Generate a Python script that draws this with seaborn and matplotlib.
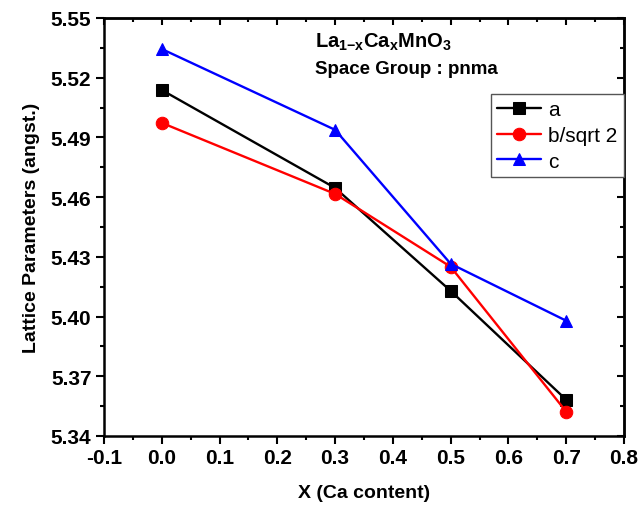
import matplotlib
matplotlib.use("Agg")
import matplotlib.pyplot as plt
import seaborn as sns
import pandas as pd
from matplotlib.ticker import MultipleLocator, FormatStrFormatter

sns.set_theme(style="white")
plt.rcParams['font.family'] = ['Liberation Sans', 'DejaVu Sans']
plt.rcParams['mathtext.fontset'] = 'custom'
plt.rcParams['mathtext.bf'] = 'Liberation Sans:bold'
plt.rcParams['mathtext.rm'] = 'Liberation Sans'
for k in ['text.color', 'axes.labelcolor', 'xtick.color', 'ytick.color']:
    plt.rcParams[k] = 'black'

x_ca = [0.0, 0.3, 0.5, 0.7]
a_vals = [5.5138, 5.4646, 5.4129, 5.3582]
b_vals = [5.4973, 5.4616, 5.4250, 5.3522]
c_vals = [5.5344, 5.4938, 5.4265, 5.3979]
series_names = ["a", "b/sqrt 2", "c"]
series_colors = ["black", "red", "blue"]
series_markers = ["s", "o", "^"]

df = pd.DataFrame({
    "x": x_ca * 3,
    "y": a_vals + b_vals + c_vals,
    "series": [series_names[0]] * 4 + [series_names[1]] * 4 + [series_names[2]] * 4,
})

fig = plt.figure(figsize=(6.39, 5.06), dpi=100)
ax = fig.add_axes([0.1628, 0.1364, 0.8137, 0.8261])

for name, col, mk in zip(series_names, series_colors, series_markers):
    sub = df[df["series"] == name]
    sns.lineplot(data=sub, x="x", y="y", ax=ax, color=col, marker=mk,
                 markersize=9 if mk != "s" else 8, markeredgecolor=col,
                 linewidth=1.7, label=name, sort=False)

ax.set_xlim(-0.1, 0.8)
ax.set_ylim(5.34, 5.55)
ax.xaxis.set_major_locator(MultipleLocator(0.1))
ax.xaxis.set_minor_locator(MultipleLocator(0.05))
ax.yaxis.set_major_locator(MultipleLocator(0.03))
ax.yaxis.set_minor_locator(MultipleLocator(0.015))
ax.xaxis.set_major_formatter(FormatStrFormatter('%.1f'))
ax.yaxis.set_major_formatter(FormatStrFormatter('%.2f'))

for s in ax.spines.values():
    s.set_color("black")
    s.set_linewidth(1.8)

ax.tick_params(axis='both', which='both', bottom=True, left=True, top=False, right=False,
               direction='out', color='black', width=1.5)
ax.tick_params(axis='both', which='major', length=6, labelsize=15, pad=3)
ax.tick_params(axis='both', which='minor', length=3)
for lab in ax.get_xticklabels() + ax.get_yticklabels():
    lab.set_fontweight('bold')

# inward ticks on top and right
axt = ax.secondary_xaxis('top')
axt.xaxis.set_major_locator(MultipleLocator(0.1))
axt.xaxis.set_minor_locator(MultipleLocator(0.05))
axt.tick_params(which='both', direction='in', labeltop=False, width=1.5, color='black')
axt.tick_params(which='major', length=5)
axt.tick_params(which='minor', length=3)
axt.spines['top'].set_linewidth(1.8)
axr = ax.secondary_yaxis('right')
axr.yaxis.set_major_locator(MultipleLocator(0.03))
axr.yaxis.set_minor_locator(MultipleLocator(0.015))
axr.tick_params(which='both', direction='in', labelright=False, width=1.5, color='black')
axr.tick_params(which='major', length=5)
axr.tick_params(which='minor', length=3)
axr.spines['right'].set_linewidth(1.8)

ax.set_xlabel("X (Ca content)", fontsize=14, fontweight='bold', labelpad=12)
ax.set_ylabel("Lattice Parameters (angst.)", fontsize=14, fontweight='bold', labelpad=8)

ax.text(0.405, 0.945, r'$\mathbf{La_{1{-}x}Ca_{x}MnO_{3}}$', transform=ax.transAxes,
        fontsize=14.5, ha='left', va='center')
ax.text(0.405, 0.880, "Space Group : pnma", transform=ax.transAxes,
        fontsize=13.5, fontweight='bold', ha='left', va='center')

leg = ax.legend(loc='upper right', bbox_to_anchor=(1.0, 0.818), fontsize=15,
                frameon=True, fancybox=False, edgecolor='#555555', framealpha=1,
                handlelength=2.1, borderpad=0.3, labelspacing=0.32, handletextpad=0.35,
                borderaxespad=0.0)
leg.get_frame().set_linewidth(1.0)
for t in leg.get_texts():
    pass

fig.savefig("out.png", dpi=100)
